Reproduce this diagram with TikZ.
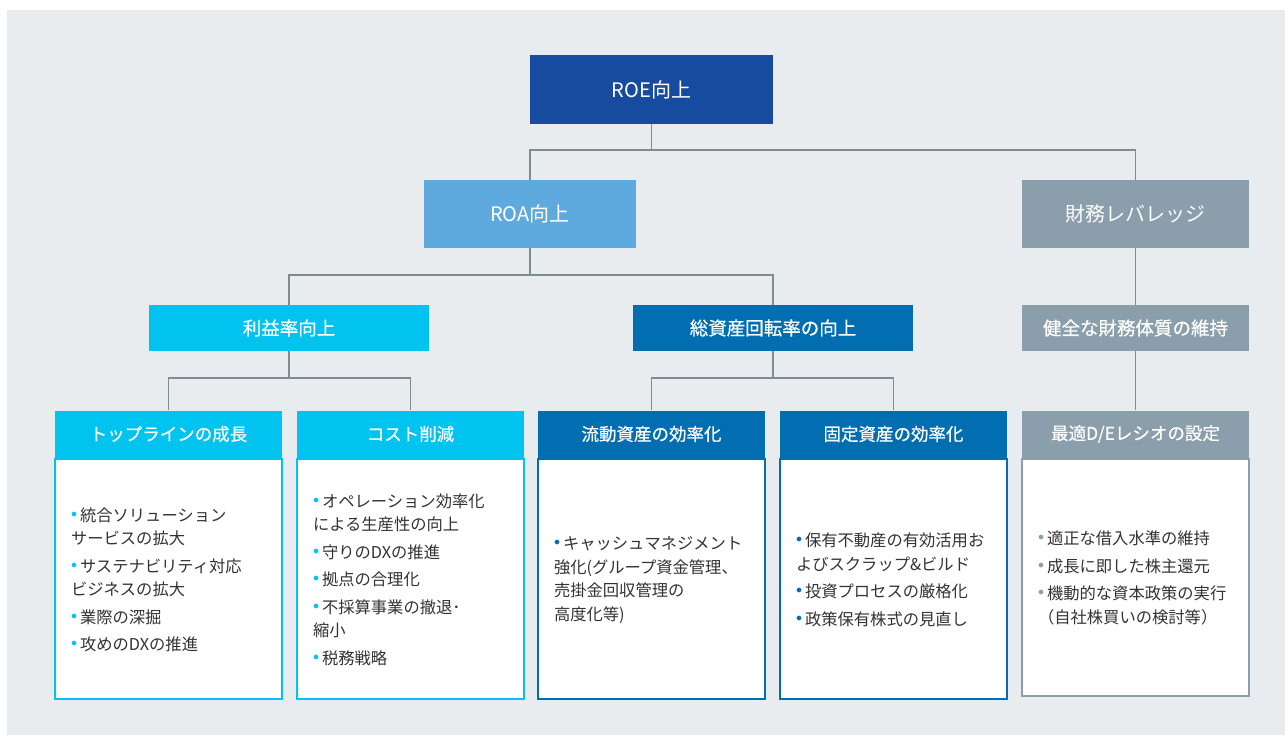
\documentclass[tikz,border=0pt]{standalone}
\usepackage{fontspec}
\setmainfont{Noto Sans CJK JP}
\newfontfamily\jpmid[FakeBold=0.5]{Noto Sans CJK JP}
\usetikzlibrary{positioning}

\definecolor{bggray}{HTML}{E8ECEF}
\definecolor{roeblue}{HTML}{174BA0}
\definecolor{roablue}{HTML}{5EAADF}
\definecolor{levgray}{HTML}{8A9FAB}
\definecolor{prfcyan}{HTML}{00C3F0}
\definecolor{astblue}{HTML}{006EB0}
\definecolor{linkgray}{HTML}{7F8B93}
\definecolor{txtgray}{HTML}{333333}

\newcommand{\bitem}[2]{\par\noindent\hangindent=9pt\hangafter=1%
  \makebox[9pt][l]{\raisebox{4pt}{\textcolor{#1}{\fontsize{11.5pt}{11.5pt}\selectfont$\bullet$}}}#2}
\newcommand{\bodyend}{\endgraf\vspace*{12pt}}

\begin{document}
\begin{tikzpicture}[x=1pt,y=-1pt,
  lvone/.style={fill=#1, text=white, inner sep=0pt, minimum height=68pt,
    font=\fontsize{20pt}{24pt}\selectfont},
  lvtwo/.style={fill=#1, text=white, inner sep=0pt, minimum height=46pt,
    font=\fontsize{18.5pt}{22pt}\selectfont\jpmid},
  head/.style={fill=#1, text=white, inner sep=0pt, minimum width=227pt, minimum height=47pt,
    font=\fontsize{17.5pt}{21pt}\selectfont\jpmid},
  body/.style={draw=#1, line width=2pt, fill=white, minimum width=227pt, minimum height=240pt,
    inner xsep=16pt, inner ysep=0pt, text width=195pt, align=left, text=txtgray,
    font=\fontsize{16.3pt}{23.5pt}\selectfont\setlength{\parskip}{4pt},
    execute at end node=\bodyend},
  link/.style={draw=linkgray, line width=1.5pt}]

 \fill[white] (0,0) rectangle (1285,735);
 \fill[bggray] (7,10) rectangle (1285,735);

 \node[lvone=roeblue, minimum width=243pt, minimum height=69pt] (roe) at (651.5,89.5) {ROE向上};
 \node[lvone=roablue, minimum width=212pt] (roa) at (530,214) {ROA向上};
 \node[lvone=levgray, minimum width=227pt] (lev) at (1135.5,214) {財務レバレッジ};

 \node[lvtwo=prfcyan, minimum width=280pt] (prf) at (289,328) {利益率向上};
 \node[lvtwo=astblue, minimum width=280pt] (ast) at (773,328) {総資産回転率の向上};
 \node[lvtwo=levgray, minimum width=227pt] (sound) at (1135.5,328) {健全な財務体質の維持};

 \node[head=prfcyan] (top) at (168.5,434) {トップラインの成長};
 \node[head=prfcyan] (cost) at (410.5,434) {コスト削減};
 \node[head=astblue] (cur) at (651.5,434) {流動資産の効率化};
 \node[head=astblue] (fix) at (893.5,434) {固定資産の効率化};
 \node[head=levgray] (dte) at (1135.5,434) {最適D/Eレシオの設定};

 \node[body=prfcyan, below=0pt of top] (topbody) {
  \bitem{prfcyan}{統合ソリューション\\サービスの拡大}
  \bitem{prfcyan}{サステナビリティ対応\\ビジネスの拡大}
  \bitem{prfcyan}{業際の深掘}
  \bitem{prfcyan}{攻めのDXの推進}};
 \node[body=prfcyan, below=0pt of cost] (costbody) {
  \bitem{prfcyan}{オペレーション効率化\\による生産性の向上}
  \bitem{prfcyan}{守りのDXの推進}
  \bitem{prfcyan}{拠点の合理化}
  \bitem{prfcyan}{不採算事業の撤退･\\縮小}
  \bitem{prfcyan}{税務戦略}};
 \node[body=astblue, below=0pt of cur] (curbody) {
  \bitem{astblue}{キャッシュマネジメント\\強化(グループ資金管理、\\売掛金回収管理の\\高度化等)}};
 \node[body=astblue, below=0pt of fix] (fixbody) {
  \bitem{astblue}{保有不動産の有効活用お\\よびスクラップ\&ビルド}
  \bitem{astblue}{投資プロセスの厳格化}
  \bitem{astblue}{政策保有株式の見直し}};
 \node[body=levgray, minimum height=237pt, below=0pt of dte] (dtebody) {
  \bitem{levgray}{適正な借入水準の維持}
  \bitem{levgray}{成長に即した株主還元}
  \bitem{levgray}{機動的な資本政策の実行\\（自社株買いの検討等）}};

 \draw[link] (roe.south) -- ++(0,26) -| (roa.north);
 \draw[link] (roe.south) -- ++(0,26) -| (lev.north);
 \draw[link] (roa.south) -- ++(0,27) -| (prf.north);
 \draw[link] (roa.south) -- ++(0,27) -| (ast.north);
 \draw[link] (lev.south) -- (sound.north);
 \draw[link] (prf.south) -- ++(0,27) -| (top.north);
 \draw[link] (prf.south) -- ++(0,27) -| (cost.north);
 \draw[link] (ast.south) -- ++(0,27) -| (cur.north);
 \draw[link] (ast.south) -- ++(0,27) -| (fix.north);
 \draw[link] (sound.south) -- (dte.north);
\end{tikzpicture}
\end{document}
